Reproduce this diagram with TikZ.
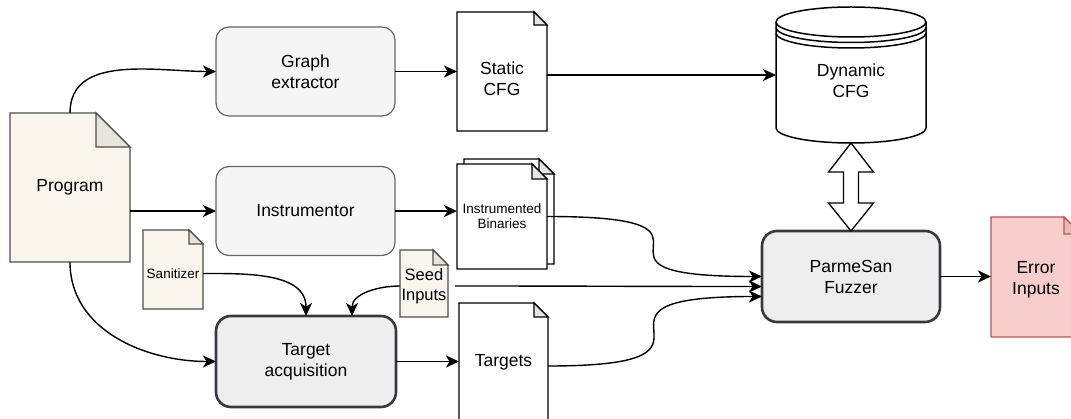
\documentclass[tikz,border=0pt]{standalone}
\usepackage{fontspec}
\setmainfont{Liberation Sans}
\usetikzlibrary{arrows.meta,calc}
\pgfdeclarelayer{background}
\pgfsetlayers{background,main}

\definecolor{beigefill}{HTML}{F9F7ED}
\definecolor{beigefold}{HTML}{E8E6DC}
\definecolor{beigeline}{HTML}{4D4D4D}
\definecolor{procfill}{HTML}{F5F5F5}
\definecolor{procline}{HTML}{666666}
\definecolor{darkfill}{HTML}{EEEEEE}
\definecolor{darkline}{HTML}{36393D}
\definecolor{whitefold}{HTML}{E6E6E6}
\definecolor{errfill}{HTML}{F8CECC}
\definecolor{errfold}{HTML}{E8B9B7}
\definecolor{errline}{HTML}{B85450}

% note (dog-eared page) outline drawn from a node's anchors
% #1 node, #2 fold size, #3 fill, #4 stroke, #5 fold fill
\newcommand{\drawnote}[5]{%
  \filldraw[fill=#3, draw=#4, line width=1.3pt, line join=miter]
    (#1.north west) -- ([xshift=-#2]#1.north east) -- ([yshift=-#2]#1.north east)
    -- (#1.south east) -- (#1.south west) -- cycle;
  \filldraw[fill=#5, draw=#4, line width=1.3pt, line join=miter]
    ([xshift=-#2]#1.north east) -- ([xshift=-#2,yshift=-#2]#1.north east)
    -- ([yshift=-#2]#1.north east) -- cycle;
}

\tikzset{
  base/.style={inner sep=0pt, outer sep=0pt, align=center,
    font=\fontsize{17.5}{21}\selectfont},
  smalltext/.style={font=\fontsize{13.5}{15}\selectfont},
  lightproc/.style={base, rectangle, rounded corners=13pt, fill=procfill,
    draw=procline, line width=1.2pt},
  darkproc/.style={base, rectangle, rounded corners=15pt, fill=darkfill,
    draw=darkline, line width=2.6pt},
  note/.style={base, rectangle},
  arr/.style={line width=1.4pt, -{Stealth[length=13pt,width=12pt,inset=3.5pt]}},
}

\begin{document}
\begin{tikzpicture}[x=1pt,y=1pt]
\useasboundingbox (0,0) rectangle (1071,-419);
\clip (0,0) rectangle (1071,-419);

% process boxes
\node[lightproc, minimum width=179pt, minimum height=89pt] (ge) at (305.5,-71.5) {Graph\\extractor};
\node[lightproc, minimum width=179pt, minimum height=89pt] (instr) at (305.5,-211) {Instrumentor};
\node[darkproc, minimum width=180pt, minimum height=91pt] (ta) at (306,-361.5) {Target\\acquisition};
\node[darkproc, minimum width=178pt, minimum height=91pt] (fuzz) at (851,-276.5) {ParmeSan\\Fuzzer};

% pages
\node[note, minimum width=120pt, minimum height=149pt] (prog) at (70,-187.5) {Program};
\node[note, minimum width=90pt, minimum height=119pt,
  label={[base, yshift=-7pt]center:Static\\CFG}] (scfg) at (502,-71.5) {};
\node[note, smalltext, minimum width=90pt, minimum height=105pt] (ib) at (502,-216.5) {Instrumented\\Binaries};
\node[note, minimum width=60pt, minimum height=79pt,
  label={[base, smalltext, yshift=-4pt]center:Sanitizer}] (san) at (173,-269.5) {};
\node[note, minimum width=48pt, minimum height=67pt,
  label={[base, font=\fontsize{16.5}{20}\selectfont, yshift=-2.5pt]center:Seed\\Inputs}] (seed) at (424,-283.5) {};
\node[note, minimum width=89pt, minimum height=118pt] (tgt) at (503.5,-362) {Targets};
\node[note, minimum width=90pt, minimum height=120pt,
  label={[base, yshift=-3pt]center:Error\\Inputs}] (err) at (1036,-277) {};

% database
\node[note, minimum width=150pt, minimum height=136pt,
  label={[base, yshift=-6pt]center:Dynamic\\CFG}] (dyn) at (851,-75) {};

\begin{pgfonlayer}{background}
  \drawnote{prog}{34pt}{beigefill}{beigeline}{beigefold}
  \drawnote{san}{14pt}{beigefill}{beigeline}{beigefold}
  \drawnote{seed}{15pt}{beigefill}{beigeline}{beigefold}
  \drawnote{scfg}{13pt}{white}{black}{whitefold}
  % second page of the stack, behind and offset up-right
  \begin{scope}[transform canvas={shift={(7pt,5pt)}}]
    \drawnote{ib}{15pt}{white}{black}{whitefold}
  \end{scope}
  \drawnote{ib}{15pt}{white}{black}{whitefold}
  \drawnote{tgt}{14pt}{white}{black}{whitefold}
  \drawnote{err}{17pt}{errfill}{errline}{errfold}
  % cylinder
  \filldraw[fill=white, draw=black, line width=1.5pt]
    ([yshift=-15pt]dyn.north west) -- ([yshift=15pt]dyn.south west)
    arc[start angle=180, end angle=360, x radius=75pt, y radius=15pt]
    -- ([yshift=-15pt]dyn.north east)
    arc[start angle=0, end angle=180, x radius=75pt, y radius=15pt] -- cycle;
  \draw[line width=1.5pt] ([yshift=-15pt]dyn.north west)
    arc[start angle=180, end angle=360, x radius=75pt, y radius=15pt];
  \draw[line width=1.5pt] ([yshift=-20.5pt]dyn.north west)
    arc[start angle=180, end angle=360, x radius=75pt, y radius=15pt];
  \draw[line width=1.5pt] ([yshift=-26pt]dyn.north west)
    arc[start angle=180, end angle=360, x radius=75pt, y radius=15pt];
\end{pgfonlayer}

% connectors
\draw[arr] (prog.north) to[out=90,in=180] (ge.west);
\draw[arr] (prog.east |- instr.west) -- (instr.west);
\draw[arr] (prog.south) to[out=-90,in=180] (ta.west);
\draw[arr] (ge.east) -- (scfg.west |- ge.east);
\draw[arr] (scfg.east |- dyn.west) -- (dyn.west);
\draw[arr] (instr.east) -- (ib.west |- instr.east);
\draw[arr] (ta.east) -- (tgt.west |- ta.east);
\draw[arr] (fuzz.east) -- (err.west |- fuzz.east);

\coordinate (fA) at (fuzz.west);
\coordinate (fB) at ([yshift=-10pt]fuzz.west);
\coordinate (fC) at ([yshift=-20pt]fuzz.west);
\coordinate (ibo) at (ib.east);
\coordinate (tgo) at ([yshift=-4pt]tgt.east);
\draw[arr] (ibo) .. controls (fA |- ibo) and (ibo |- fA) .. (fA);
\draw[arr] (tgo) .. controls (fC |- tgo) and (tgo |- fC) .. (fC);
\draw[arr, shorten <=7pt] ([yshift=-2.5pt]seed.east) to[out=0,in=180] (fB);

\draw[arr] ([yshift=-4pt]san.east) to[out=0,in=90] (ta.north);
\draw[arr] ([yshift=-2.5pt]seed.west) to[out=180,in=90] ([xshift=46pt]ta.north);

% two-way hollow arrow between database and fuzzer
\filldraw[fill=white, draw=black, line width=1.3pt, line join=miter]
  (dyn.south) -- ++(22.5,-29) -- ++(-15,0) -- ($(fuzz.north)+(7.5,28)$)
  -- ++(15,0) -- (fuzz.north) -- ++(-22.5,28) -- ++(15,0)
  -- ($(dyn.south)+(-7.5,-29)$) -- ++(-15,0) -- cycle;
\end{tikzpicture}
\end{document}
